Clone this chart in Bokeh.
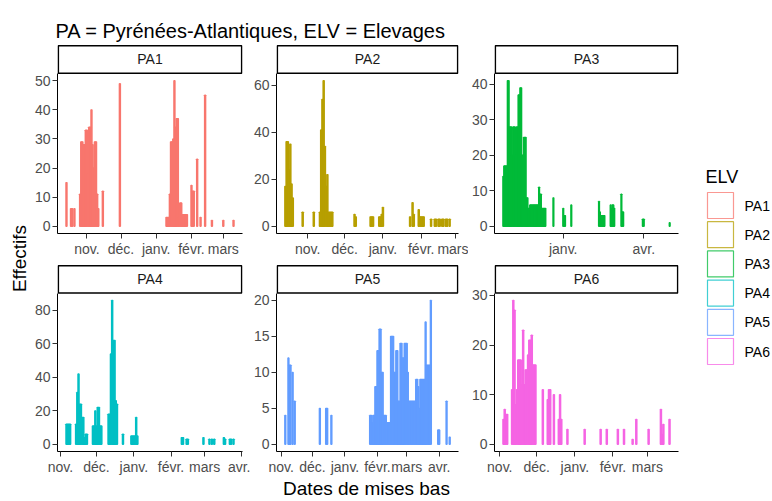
import pandas as pd
from bokeh.plotting import figure
from bokeh.layouts import row, column
from bokeh.models import Range1d, FixedTicker, SingleIntervalTicker
from bokeh.core.properties import value
from bokeh.embed import file_html
from bokeh.resources import INLINE

# ---------------- data ----------------
title_txt = "PA = Pyrénées-Atlantiques, ELV = Elevages"
x_title = "Dates de mises bas"
y_title = "Effectifs"
legend_title = "ELV"
elv = ["PA1", "PA2", "PA3", "PA4", "PA5", "PA6"]

origin = "2018-11-01"  # day 0
month_start = {"nov.": "2018-11-01", "déc.": "2018-12-01", "janv.": "2019-01-01",
               "févr.": "2019-02-01", "mars": "2019-03-01", "avr.": "2019-04-01"}

pa1_day = [-18, -14, -13, -11, -6, -5, -4, -3, -2, -1, 0, 1, 2, 3, 4, 5, 6, 7, 8, 9, 10, 14,
           29, 70, 71, 72, 73, 74, 75, 76, 77, 78, 79, 80, 81, 82, 83, 84, 85, 86, 87, 88,
           92, 93, 94, 97, 100, 104, 110, 120, 129]
pa1_n = [15, 6, 6, 6, 11, 29, 29, 28, 28, 33, 33, 18, 34, 34, 40, 28, 20, 29, 29, 11, 6, 12,
         49, 3, 3, 3, 11, 29, 29, 30, 50, 34, 37, 37, 3, 8, 8, 4, 4, 4, 4, 4,
         14, 12, 12, 23, 3, 45, 2, 2, 2]

pa2_day = [-18, -17, -16, -15, -14, -13, -12, -4, 5, 10, 11, 12, 13, 14, 15, 16, 17, 18, 19, 20,
           38, 39, 51, 52, 53, 58, 59, 60, 61, 83, 85, 86, 90, 91, 92, 93, 94, 100,
           103, 104, 106, 107, 109, 110, 112, 113, 115]
pa2_n = [17, 36, 36, 24, 35, 18, 12, 6, 6, 6, 41, 54, 62, 34, 17, 22, 6, 6, 6, 6,
         5, 4, 4, 4, 4, 4, 4, 5, 8, 4, 10, 5, 7, 4, 4, 4, 4, 3,
         3, 3, 3, 3, 3, 3, 3, 3, 3]

pa3_day = [-6, -5, -4, -3, -2, -1, 0, 1, 2, 3, 4, 5, 6, 7, 8, 9, 10, 11, 12, 13, 14, 15, 16, 17,
           18, 19, 20, 21, 22, 23, 24, 25, 26, 27, 28, 29, 30, 31, 32, 33, 34, 35, 36, 37,
           38, 39, 40, 41, 50, 61, 62, 63, 70, 101, 102, 103, 104, 105, 106, 107, 114, 115,
           116, 117, 118, 126, 127, 128, 150, 151, 180]
pa3_n = [14, 17, 17, 17, 17, 41, 41, 28, 28, 28, 20, 28, 28, 28, 20, 28, 28, 37, 37, 39, 39, 20, 20, 25,
         25, 25, 8, 8, 5, 5, 6, 6, 6, 6, 6, 6, 6, 6, 6, 6, 11, 9, 9, 5,
         5, 5, 5, 5, 8, 5, 3, 3, 6, 7, 4, 3, 3, 3, 3, 3, 6, 5,
         6, 6, 5, 9, 4, 4, 2, 2, 1]

pa4_day = [5, 6, 7, 8, 13, 14, 15, 16, 17, 18, 19, 20, 21, 22, 27, 28, 29, 30, 31, 32, 33, 34,
           40, 41, 42, 43, 44, 45, 46, 47, 52, 59, 60, 61, 62, 63, 64, 101, 102, 105, 106,
           119, 124, 126, 128, 136, 137, 141, 142, 144]
pa4_n = [12, 12, 12, 12, 12, 31, 42, 24, 24, 16, 16, 4, 6, 6, 11, 11, 20, 11, 22, 22, 11, 11,
         18, 18, 54, 86, 62, 62, 26, 24, 6, 5, 5, 5, 5, 16, 5, 4, 4, 3, 3,
         4, 3, 3, 3, 4, 3, 3, 3, 3]

pa5_day = [4, 7, 8, 9, 11, 13, 37, 43, 44, 48,
           85, 86, 87, 88, 89, 90, 91, 92, 93, 94, 95, 96, 97, 98, 99, 100, 101, 102, 103, 104,
           105, 106, 107, 108, 109, 110, 111, 112, 113, 114, 115, 116, 117, 118, 119, 120, 121,
           122, 123, 124, 125, 126, 127, 128, 129, 130, 131, 132, 133, 134, 135, 136, 137, 138,
           139, 140, 141, 142, 143, 150, 151, 158, 161]
pa5_n = [4, 12, 11, 11, 10, 6, 5, 5, 5, 4,
         4, 4, 3, 4, 4, 8, 8, 13, 13, 16, 16, 10, 10, 4, 4, 4, 3, 3, 3, 3,
         15, 15, 15, 10, 10, 13, 13, 6, 6, 14, 14, 12, 12, 14, 14, 14, 10,
         6, 6, 6, 6, 6, 6, 6, 9, 9, 8, 5, 9, 9, 9, 9, 9, 17,
         11, 11, 11, 11, 20, 2, 2, 6, 1]

pa6_day = [3, 4, 5, 6, 10, 11, 12, 13, 14, 15, 16, 17, 18, 19, 20, 21, 22, 23, 24, 25, 26, 27,
           28, 29, 35, 39, 40, 41, 44, 48, 49, 50, 55, 69, 82, 87, 96, 101, 108, 111, 121,
           131, 132, 133, 138]
pa6_n = [5, 7, 6, 6, 11, 29, 27, 8, 11, 17, 17, 17, 12, 23, 12, 15, 15, 18, 21, 21, 22, 16,
         16, 16, 11, 9, 11, 11, 10, 5, 10, 5, 3, 3, 3, 3, 3, 3, 1, 5, 3,
         7, 2, 4, 5]

pa1_ticks = ["nov.", "déc.", "janv.", "févr.", "mars"]
pa2_ticks = ["nov.", "déc.", "janv.", "févr.", "mars"]
pa3_ticks = ["janv.", "avr."]
pa4_ticks = ["nov.", "déc.", "janv.", "févr.", "mars", "avr."]
pa5_ticks = ["nov.", "déc.", "janv.", "févr.", "mars", "avr."]
pa6_ticks = ["nov.", "déc.", "janv.", "févr.", "mars"]
y_steps = [10, 20, 10, 20, 5, 10]

# ---------------- style ----------------
FONT = "Liberation Sans"
palette = ["#F8766D", "#B79F00", "#00BA38", "#00BFC4", "#619CFF", "#F564E3"]
col_w = [220, 218, 217]
col_l = [27, 26, 26]
col_r = [8, 10, 7]
frame_h = 160
row_b = [31, 24]
strip_h = 29
side_h = 2 * (strip_h + frame_h) + sum(row_b)
left_w, legend_w = 30, 87
top_h, bottom_h = 44, 23
total_w = left_w + sum(col_w) + legend_w


def canvas(w, h):
    c = figure(width=w, height=h, x_range=Range1d(0, w), y_range=Range1d(0, h),
               toolbar_location=None, output_backend="svg",
               min_border_left=0, min_border_right=0, min_border_top=0, min_border_bottom=0,
               x_axis_location=None, y_axis_location=None)
    c.outline_line_color = None
    c.grid.visible = False
    return c


def put_text(c, x, yt, txt, size, color="black", align="left", angle=0.0, baseline="middle"):
    c.text(x=[x], y=[c.height - yt], text=[txt], text_font=value(FONT),
           text_font_size=value(size), text_color=color, text_align=align,
           text_baseline=baseline, angle=angle)


origin_ts = pd.Timestamp(origin)
tick_day = {k: (pd.Timestamp(v) - origin_ts).days for k, v in month_start.items()}


def panel(label, days, counts, ticks, step, color, w, l, r, b):
    lo, hi = min(days) - 0.5, max(days) + 0.5
    pad = 0.05 * (hi - lo)
    x0, x1 = lo - pad, hi + pad
    ymax = max(counts)
    y0, y1 = -0.05 * ymax, 1.05 * ymax
    upp = (y1 - y0) / frame_h              # data units per pixel (y)
    xpp = (x1 - x0) / (w - l - r)          # data units per pixel (x)
    ytop = y1 + strip_h * upp
    p = figure(width=w, height=frame_h + strip_h + b, x_range=Range1d(x0, x1),
               y_range=Range1d(y0, ytop),
               toolbar_location=None, output_backend="svg",
               min_border_left=l, min_border_right=r, min_border_top=0, min_border_bottom=b)
    p.vbar(x=days, top=counts, bottom=0, width=0.9, fill_color=color,
           line_color=color, line_width=1.4)
    # facet strip
    p.quad(left=[x0 + 0.8 * xpp], right=[x1 - 0.8 * xpp], bottom=[y1 + 0.2 * upp],
           top=[ytop - 1.2 * upp], fill_color="white", line_color="black", line_width=1.6)
    p.text(x=[(x0 + x1) / 2], y=[y1 + strip_h / 2 * upp], text=[label], text_font=value(FONT),
           text_font_size=value("14px"), text_color="#1A1A1A", text_align="center",
           text_baseline="middle")
    p.outline_line_color = None
    p.grid.visible = False
    p.xaxis.ticker = FixedTicker(ticks=[tick_day[t] for t in ticks])
    p.xaxis.major_label_overrides = {tick_day[t]: t for t in ticks}
    p.yaxis.ticker = SingleIntervalTicker(interval=step, num_minor_ticks=0)
    p.yaxis.bounds = (y0, y1)
    for ax in (p.xaxis[0], p.yaxis[0]):
        ax.axis_line_color = "black"
        ax.axis_line_width = 1
        ax.major_tick_line_color = "#333333"
        ax.major_tick_out = 5
        ax.major_tick_in = 0
        ax.minor_tick_line_color = None
        ax.major_label_text_font = FONT
        ax.major_label_text_font_size = "14px"
        ax.major_label_text_color = "#4D4D4D"
        ax.major_label_standoff = 2
    return p


data = [(pa1_day, pa1_n, pa1_ticks), (pa2_day, pa2_n, pa2_ticks), (pa3_day, pa3_n, pa3_ticks),
        (pa4_day, pa4_n, pa4_ticks), (pa5_day, pa5_n, pa5_ticks), (pa6_day, pa6_n, pa6_ticks)]

rows = []
for ri in range(2):
    plots = []
    for ci in range(3):
        k = ri * 3 + ci
        d, n, t = data[k]
        plots.append(panel(elv[k], d, n, t, y_steps[k], palette[k], col_w[ci], col_l[ci],
                           col_r[ci], row_b[ri]))
    rows.append(row(*plots, spacing=0))
panels = column(*rows, spacing=0)

# title
tfig = canvas(total_w, top_h)
put_text(tfig, 55, 30, title_txt, "20px", baseline="alphabetic")

# y title
yfig = canvas(left_w, side_h)
put_text(yfig, 18.5, 214, y_title, "19px", align="center", angle=1.5707963)

# legend
lfig = canvas(legend_w, side_h)
put_text(lfig, 20, 132, legend_title, "18px")
key_y = [lfig.height - (161 + 29.2 * i) for i in range(len(elv))]
lfig.rect(x=[35] * len(elv), y=key_y, width=26, height=26, fill_color="white",
          line_color=palette, line_alpha=0.75, line_width=1.2)
lfig.text(x=[59] * len(elv), y=key_y, text=elv, text_font=value(FONT),
          text_font_size=value("14px"), text_color="black", text_baseline="middle")

# x title
xfig = canvas(total_w, bottom_h)
put_text(xfig, 366, 11, x_title, "19px", align="center")

layout = column(tfig, row(yfig, panels, lfig, spacing=0), xfig, spacing=0)

open("out.html", "w").write(file_html(layout, INLINE))
